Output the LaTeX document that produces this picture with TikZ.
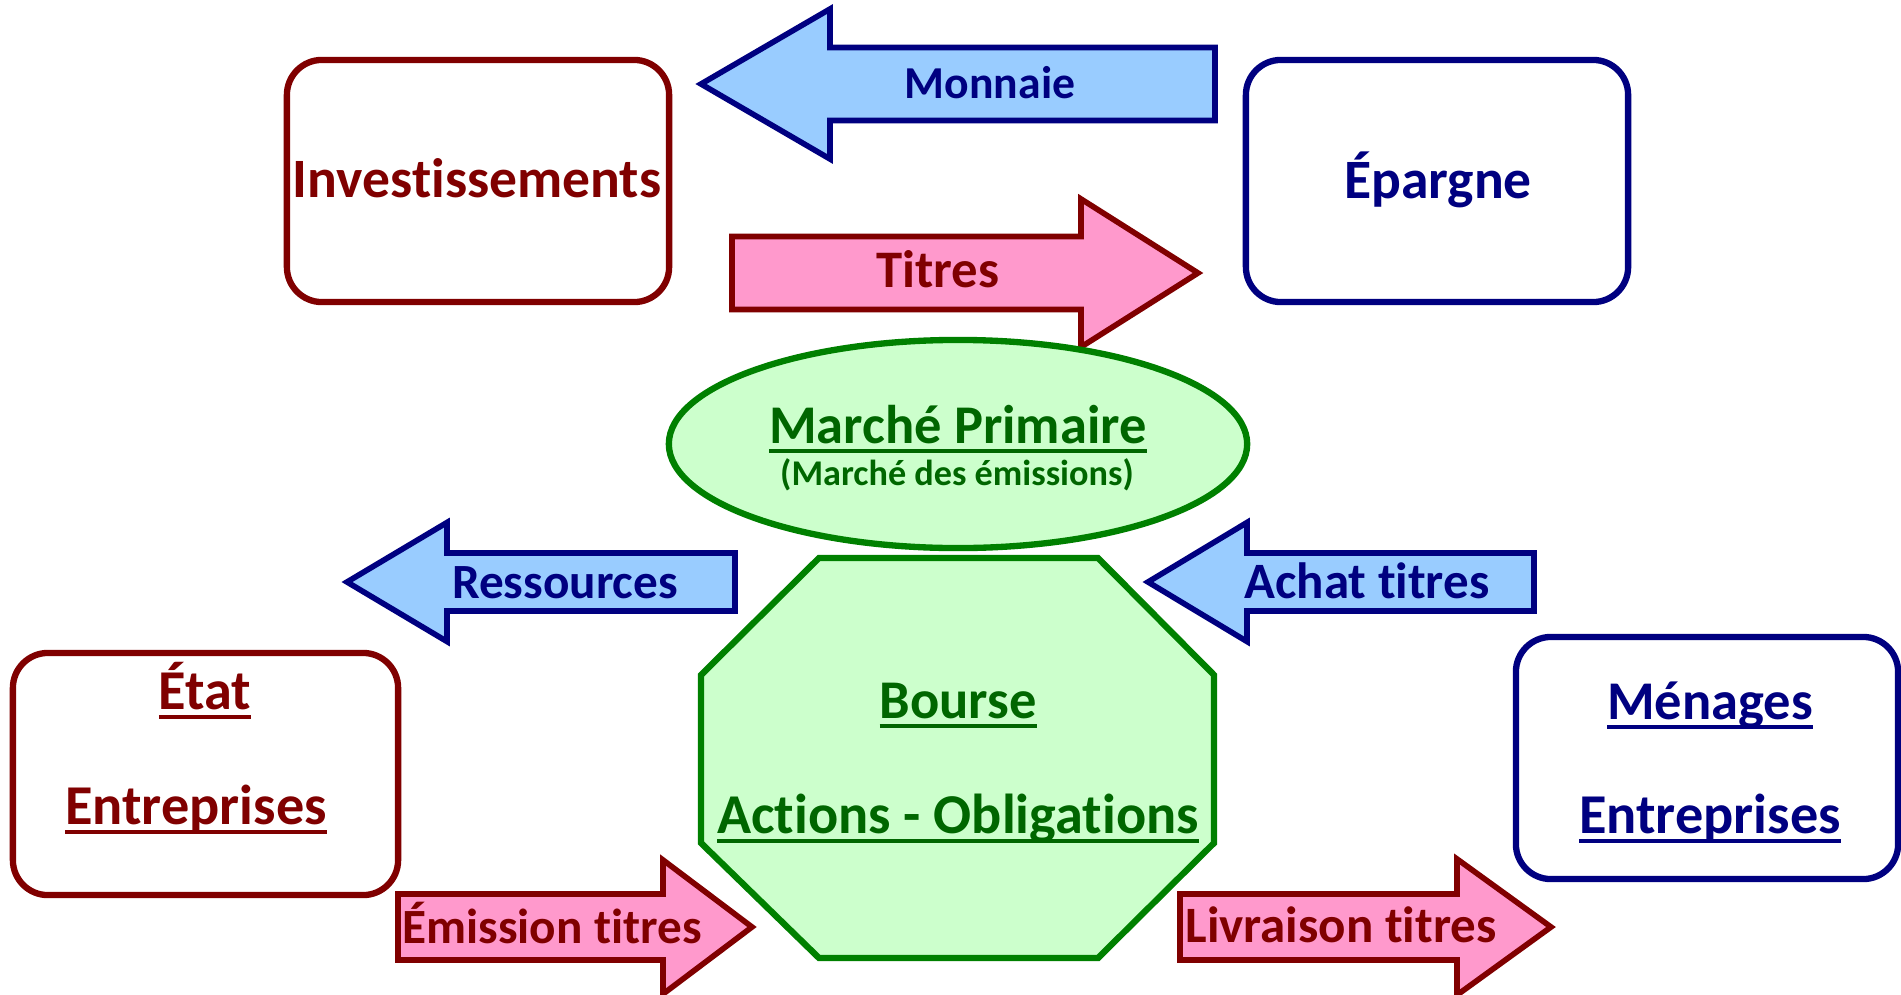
\documentclass[tikz,border=0pt]{standalone}
\usepackage{fontspec}
\setmainfont{Carlito}[Ligatures=NoCommon]
\usetikzlibrary{shapes.geometric}

\definecolor{rougefonce}{HTML}{800000}
\definecolor{bleufonce}{HTML}{000080}
\definecolor{vertfonce}{HTML}{008000}
\definecolor{verttexte}{HTML}{006600}
\definecolor{bleuclair}{HTML}{99CCFF}
\definecolor{roseclair}{HTML}{FF99CC}
\definecolor{vertclair}{HTML}{CCFFCC}

\newsavebox{\soulbox}
\newcommand{\souligne}[1]{\sbox{\soulbox}{#1}\rlap{\rule[-2.95pt]{\wd\soulbox}{1.3pt}}\usebox{\soulbox}}

% fleche pleine : style, queue, base de la pointe, pointe, y, demi-corps, demi-pointe
\newcommand{\fleche}[7]{\draw[#1] (#2,#5-#6) -- (#3,#5-#6) -- (#3,#5-#7) -- (#4,#5) -- (#3,#5+#7) -- (#3,#5+#6) -- (#2,#5+#6) -- cycle;}

\begin{document}
\begin{tikzpicture}[x=0.01cm, y=-0.01cm,
    boite/.style={draw=#1, line width=1.8pt, rounded corners=0.35cm, fill=white, inner sep=0pt},
    fbleue/.style={draw=bleufonce, fill=bleuclair, line width=1.6pt},
    frose/.style={draw=rougefonce, fill=roseclair, line width=1.6pt},
    txt/.style={font=\fontsize{#1}{20}\selectfont\bfseries, anchor=base, inner sep=0pt}]
    \useasboundingbox (0,0) rectangle (1901,994);

    % les quatre acteurs
    \node[boite=rougefonce, minimum width=3.82cm, minimum height=2.42cm] (invest) at (478,181) {};
    \node[boite=bleufonce, minimum width=3.82cm, minimum height=2.42cm] (epargne) at (1437,181) {};
    \node[boite=rougefonce, minimum width=3.85cm, minimum height=2.42cm] (etat) at (205.5,774) {};
    \node[boite=bleufonce, minimum width=3.82cm, minimum height=2.42cm] (menages) at (1707,758) {};

    % fleches pleines
    \fleche{fbleue}{1215}{830}{701}{84}{36.5}{75}
    \fleche{frose}{732}{1081}{1198}{273}{36.5}{74}
    \fleche{fbleue}{735}{447}{347}{582}{29}{59.5}
    \fleche{fbleue}{1534}{1247}{1148}{582}{29}{59.5}
    \fleche{frose}{398}{663}{752}{927}{33}{67}
    \fleche{frose}{1180}{1457}{1551}{927}{33}{68}

    % marche primaire et bourse
    \node[ellipse, draw=vertfonce, fill=vertclair, line width=1.8pt, minimum width=5.78cm, minimum height=2.08cm, inner sep=0pt] (primaire) at (958,444) {};
    \draw[draw=vertfonce, fill=vertclair, line width=1.8pt] (819,558) -- (1098,558) -- (1214,675) -- (1214,843) -- (1098,958) -- (819,958) -- (701,843) -- (701,675) -- cycle;

    % textes
    \node[txt=15.8, text=rougefonce] (tinvest) at (477,198) {Investissements};
    \node[txt=15.8, text=bleufonce] (tepargne) at (1438,199) {Épargne};
    \node[txt=13, text=bleufonce] (tmonnaie) at (990,99) {Monnaie};
    \node[txt=15, text=rougefonce] (ttitres) at (938,287) {Titres};
    \node[txt=15.5, text=verttexte] (tprimaire) at (958,443) {\souligne{Marché Primaire}};
    \node[txt=10.3, text=verttexte] (temissions) at (957,485) {(Marché des émissions)};
    \node[txt=14, text=bleufonce] (tressources) at (565,598) {Ressources};
    \node[txt=14.5, text=bleufonce] (tachat) at (1367,598) {Achat titres};
    \node[txt=16, text=rougefonce] (tetat) at (205,709) {\souligne{État}};
    \node[txt=16, text=rougefonce] (tentrg) at (196,824) {\souligne{Entreprises}};
    \node[txt=14, text=rougefonce] (temission) at (552,943) {Émission titres};
    \node[txt=15.5, text=verttexte] (tbourse) at (958,718) {\souligne{Bourse}};
    \node[txt=16, text=verttexte] (tactions) at (958,833) {\souligne{Actions - Obligations}};
    \node[txt=15.5, text=bleufonce] (tmenages) at (1710,719) {\souligne{Ménages}};
    \node[txt=16, text=bleufonce] (tentrd) at (1710,833) {\souligne{Entreprises}};
    \node[txt=14.5, text=rougefonce] (tlivraison) at (1341,942) {Livraison titres};
\end{tikzpicture}
\end{document}
